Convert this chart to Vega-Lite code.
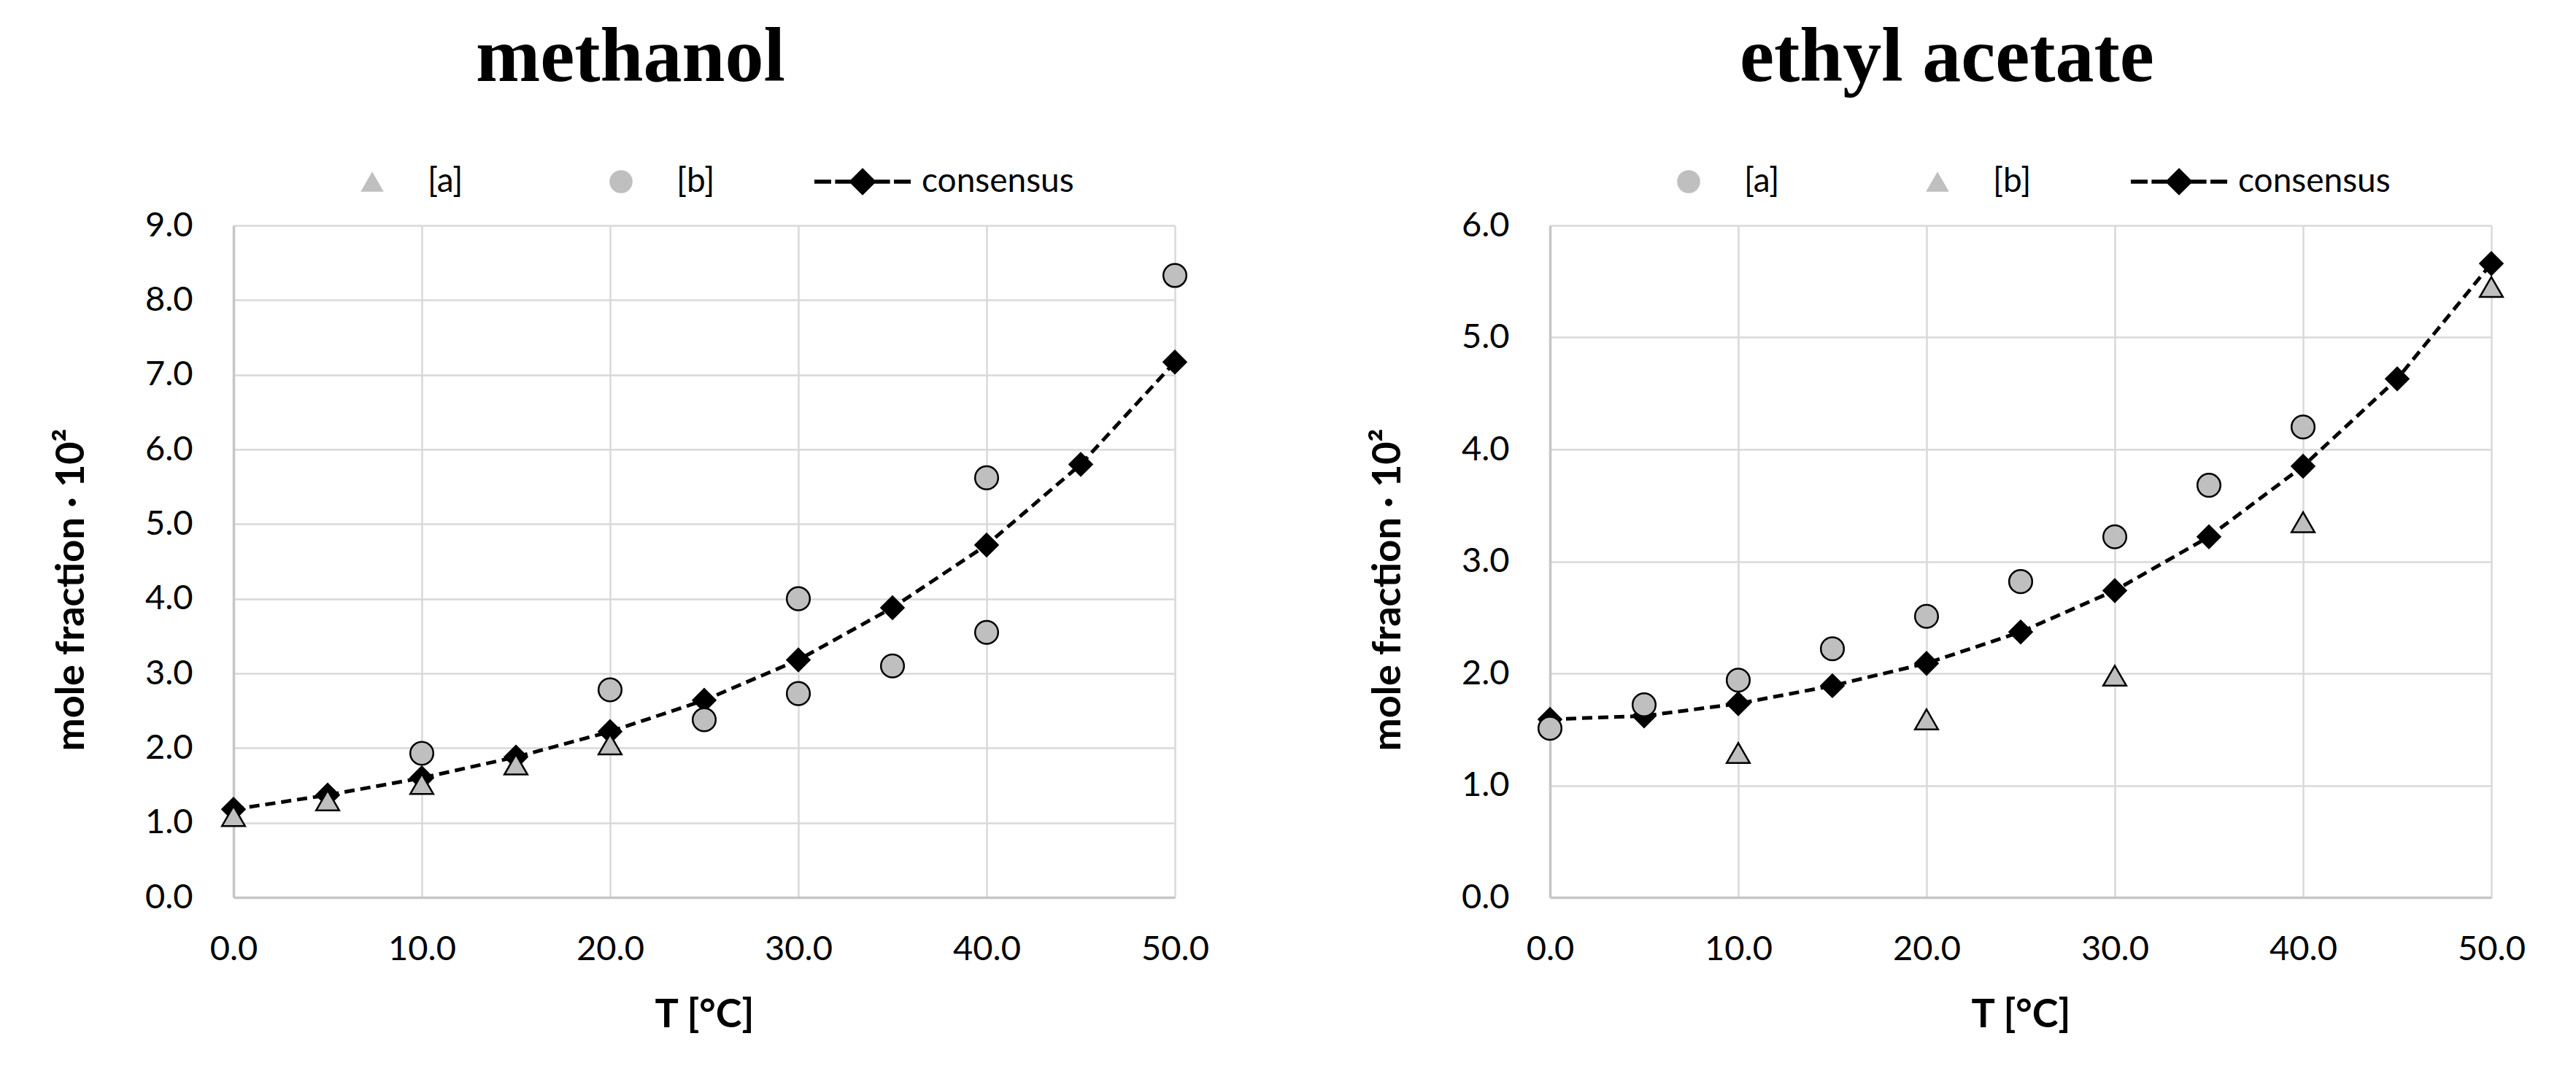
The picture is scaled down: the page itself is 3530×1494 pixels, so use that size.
{
  "$schema": "https://vega.github.io/schema/vega-lite/v6.json",
  "padding": {"left": 71, "top": 26, "right": 0, "bottom": 0},
  "background": "white",
  "datasets": {
    "pts": [
      {"panel": "methanol", "series": "consensus", "T": 0, "x": 1.18},
      {"panel": "methanol", "series": "consensus", "T": 5, "x": 1.37},
      {"panel": "methanol", "series": "consensus", "T": 10, "x": 1.6},
      {"panel": "methanol", "series": "consensus", "T": 15, "x": 1.88},
      {"panel": "methanol", "series": "consensus", "T": 20, "x": 2.22},
      {"panel": "methanol", "series": "consensus", "T": 25, "x": 2.64},
      {"panel": "methanol", "series": "consensus", "T": 30, "x": 3.18},
      {"panel": "methanol", "series": "consensus", "T": 35, "x": 3.88},
      {"panel": "methanol", "series": "consensus", "T": 40, "x": 4.72},
      {"panel": "methanol", "series": "consensus", "T": 45, "x": 5.8},
      {"panel": "methanol", "series": "consensus", "T": 50, "x": 7.17},
      {"panel": "methanol", "series": "[a]", "T": 0, "x": 1.09},
      {"panel": "methanol", "series": "[a]", "T": 5, "x": 1.3},
      {"panel": "methanol", "series": "[a]", "T": 10, "x": 1.52},
      {"panel": "methanol", "series": "[a]", "T": 15, "x": 1.78},
      {"panel": "methanol", "series": "[a]", "T": 20, "x": 2.05},
      {"panel": "methanol", "series": "[b]", "T": 10, "x": 1.93},
      {"panel": "methanol", "series": "[b]", "T": 20, "x": 2.78},
      {"panel": "methanol", "series": "[b]", "T": 25, "x": 2.38},
      {"panel": "methanol", "series": "[b]", "T": 30, "x": 4.0},
      {"panel": "methanol", "series": "[b]", "T": 30, "x": 2.73},
      {"panel": "methanol", "series": "[b]", "T": 35, "x": 3.1},
      {"panel": "methanol", "series": "[b]", "T": 40, "x": 5.62},
      {"panel": "methanol", "series": "[b]", "T": 40, "x": 3.55},
      {"panel": "methanol", "series": "[b]", "T": 50, "x": 8.33},
      {"panel": "ethyl acetate", "series": "consensus", "T": 0, "x": 1.59},
      {"panel": "ethyl acetate", "series": "consensus", "T": 5, "x": 1.62},
      {"panel": "ethyl acetate", "series": "consensus", "T": 10, "x": 1.73},
      {"panel": "ethyl acetate", "series": "consensus", "T": 15, "x": 1.89},
      {"panel": "ethyl acetate", "series": "consensus", "T": 20, "x": 2.09},
      {"panel": "ethyl acetate", "series": "consensus", "T": 25, "x": 2.37},
      {"panel": "ethyl acetate", "series": "consensus", "T": 30, "x": 2.74},
      {"panel": "ethyl acetate", "series": "consensus", "T": 35, "x": 3.22},
      {"panel": "ethyl acetate", "series": "consensus", "T": 40, "x": 3.85},
      {"panel": "ethyl acetate", "series": "consensus", "T": 45, "x": 4.63},
      {"panel": "ethyl acetate", "series": "consensus", "T": 50, "x": 5.66},
      {"panel": "ethyl acetate", "series": "[a]", "T": 0, "x": 1.51},
      {"panel": "ethyl acetate", "series": "[a]", "T": 5, "x": 1.72},
      {"panel": "ethyl acetate", "series": "[a]", "T": 10, "x": 1.94},
      {"panel": "ethyl acetate", "series": "[a]", "T": 15, "x": 2.22},
      {"panel": "ethyl acetate", "series": "[a]", "T": 20, "x": 2.51},
      {"panel": "ethyl acetate", "series": "[a]", "T": 25, "x": 2.82},
      {"panel": "ethyl acetate", "series": "[a]", "T": 30, "x": 3.22},
      {"panel": "ethyl acetate", "series": "[a]", "T": 35, "x": 3.68},
      {"panel": "ethyl acetate", "series": "[a]", "T": 40, "x": 4.2},
      {"panel": "ethyl acetate", "series": "[b]", "T": 10, "x": 1.29},
      {"panel": "ethyl acetate", "series": "[b]", "T": 20, "x": 1.59},
      {"panel": "ethyl acetate", "series": "[b]", "T": 30, "x": 1.98},
      {"panel": "ethyl acetate", "series": "[b]", "T": 40, "x": 3.35},
      {"panel": "ethyl acetate", "series": "[b]", "T": 50, "x": 5.45}
    ]
  },
  "config": {
    "font": "Lato",
    "view": {"stroke": null},
    "axis": {
      "labelFont": "Lato", "labelFontSize": 47, "labelColor": "black",
      "titleFont": "Lato", "titleFontSize": 54, "titleFontWeight": "bold", "titleColor": "black",
      "ticks": false, "grid": true, "gridColor": "#d9d9d9", "gridWidth": 2.5,
      "domainColor": "#c6c6c6", "domainWidth": 3.5, "labelFlush": false
    },
    "legend": {
      "orient": "none", "direction": "horizontal", "title": null, "padding": 0,
      "symbolSize": 1000, "symbolStrokeWidth": 2.5, "symbolStrokeColor": "black", "symbolFillColor": "#BFBFBF", "symbolOpacity": 1,
      "labelFont": "Lato", "labelFontSize": 46, "labelColor": "black", "labelLimit": 1000,
      "labelOffset": 53, "columnPadding": 193
    },
    "title": {"font": "Liberation Serif", "fontSize": 106, "fontWeight": "bold", "color": "black", "anchor": "middle", "frame": "bounds", "offset": 93}
  },
  "resolve": {"scale": {"shape": "independent", "color": "independent", "x": "independent", "y": "independent"}, "legend": {"shape": "independent", "color": "independent"}},
  "spacing": 218,
  "hconcat": [
    {
      "title": "methanol",
      "width": 1290, "height": 921,
      "data": {"name": "pts"},
      "encoding": {
        "x": {"field": "T", "type": "quantitative", "scale": {"domain": [0, 50], "nice": false}, "axis": {"values": [0, 10, 20, 30, 40, 50], "format": ".1f", "labelPadding": 48, "title": "T [°C]", "titlePadding": 40}},
        "y": {"field": "x", "type": "quantitative", "scale": {"domain": [0, 9], "nice": false}, "axis": {"values": [0, 1, 2, 3, 4, 5, 6, 7, 8, 9], "format": ".1f", "labelPadding": 56, "title": "mole fraction · 10²", "titlePadding": 73, "titleY": 499}}
      },
      "layer": [
        {"transform": [{"filter": "datum.panel === 'methanol' && datum.series === 'consensus'"}], "mark": {"type": "line", "color": "black", "strokeWidth": 5, "strokeDash": [14, 8]}},
        {"transform": [{"filter": "datum.panel === 'methanol' && datum.series === 'consensus'"}], "mark": {"type": "point", "shape": "diamond", "filled": true, "stroke": "black", "strokeWidth": 2, "size": 1000, "opacity": 1},
         "encoding": {
           "color": {"field": "series", "type": "nominal", "scale": {"domain": ["consensus"], "range": ["#000000"]},
             "legend": {"symbolType": "M-4.1,-0.1H-2.8V0.1H-4.1ZM-2.3,-0.1H-1.1V0.1H-2.3ZM1.1,-0.1H2.3V0.1H1.1ZM2.8,-0.1H4.1V0.1H2.8ZM0,-1.08L1.08,0L0,1.08L-1.08,0Z", "symbolFillColor": "black", "labelOffset": 58, "legendX": 839, "legendY": -83}}
         }},
        {"transform": [{"filter": "datum.panel === 'methanol' && datum.series !== 'consensus'"}], "mark": {"type": "point", "filled": true, "fill": "#BFBFBF", "stroke": "black", "strokeWidth": 2.5, "size": 1000, "opacity": 1},
         "encoding": {
           "shape": {"field": "series", "type": "nominal", "scale": {"domain": ["[a]", "[b]"], "range": ["triangle-up", "circle"]},
             "legend": {"legendX": 167, "legendY": -83, "symbolStrokeColor": "black", "symbolStrokeWidth": 2.5, "symbolFillColor": "#BFBFBF", "symbolSize": 1000}}
         }}
      ]
    },
    {
      "title": "ethyl acetate",
      "width": 1290, "height": 921,
      "data": {"name": "pts"},
      "encoding": {
        "x": {"field": "T", "type": "quantitative", "scale": {"domain": [0, 50], "nice": false}, "axis": {"values": [0, 10, 20, 30, 40, 50], "format": ".1f", "labelPadding": 48, "title": "T [°C]", "titlePadding": 40}},
        "y": {"field": "x", "type": "quantitative", "scale": {"domain": [0, 6], "nice": false}, "axis": {"values": [0, 1, 2, 3, 4, 5, 6], "format": ".1f", "labelPadding": 56, "title": "mole fraction · 10²", "titlePadding": 73, "titleY": 499}}
      },
      "layer": [
        {"transform": [{"filter": "datum.panel === 'ethyl acetate' && datum.series === 'consensus'"}], "mark": {"type": "line", "color": "black", "strokeWidth": 5, "strokeDash": [14, 8]}},
        {"transform": [{"filter": "datum.panel === 'ethyl acetate' && datum.series === 'consensus'"}], "mark": {"type": "point", "shape": "diamond", "filled": true, "stroke": "black", "strokeWidth": 2, "size": 1000, "opacity": 1},
         "encoding": {
           "color": {"field": "series", "type": "nominal", "scale": {"domain": ["consensus"], "range": ["#000000"]},
             "legend": {"symbolType": "M-4.1,-0.1H-2.8V0.1H-4.1ZM-2.3,-0.1H-1.1V0.1H-2.3ZM1.1,-0.1H2.3V0.1H1.1ZM2.8,-0.1H4.1V0.1H2.8ZM0,-1.08L1.08,0L0,1.08L-1.08,0Z", "symbolFillColor": "black", "labelOffset": 58, "legendX": 839, "legendY": -83}}
         }},
        {"transform": [{"filter": "datum.panel === 'ethyl acetate' && datum.series !== 'consensus'"}], "mark": {"type": "point", "filled": true, "fill": "#BFBFBF", "stroke": "black", "strokeWidth": 2.5, "size": 1000, "opacity": 1},
         "encoding": {
           "shape": {"field": "series", "type": "nominal", "scale": {"domain": ["[a]", "[b]"], "range": ["circle", "triangle-up"]},
             "legend": {"legendX": 167, "legendY": -83, "symbolStrokeColor": "black", "symbolStrokeWidth": 2.5, "symbolFillColor": "#BFBFBF", "symbolSize": 1000}}
         }}
      ]
    }
  ]
}
